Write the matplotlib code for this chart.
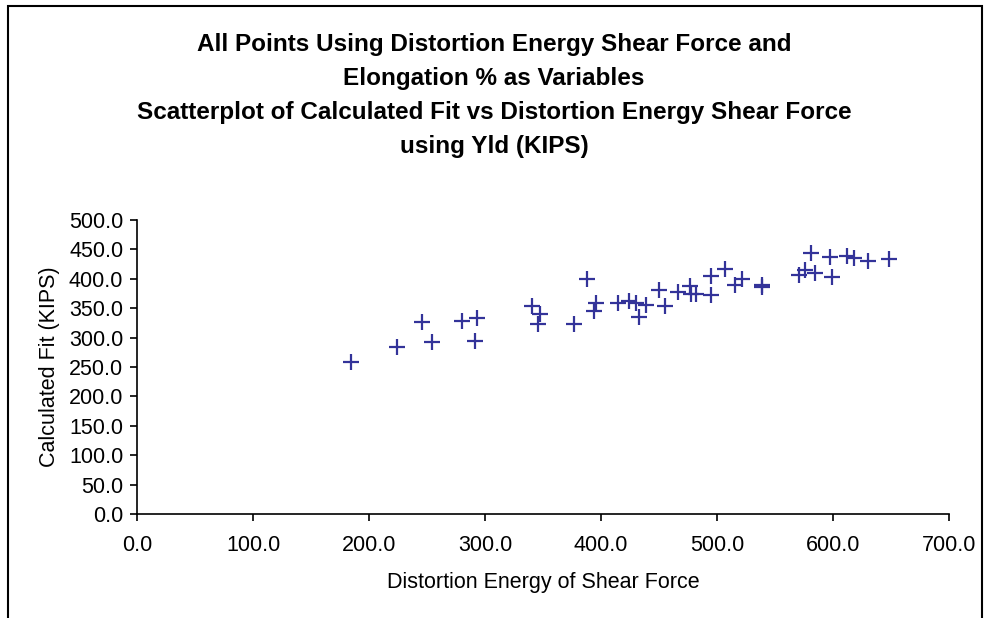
import matplotlib.pyplot as plt
from matplotlib.patches import Rectangle
from matplotlib.ticker import FormatStrFormatter

# values
shear_force = [
    184.3, 224.1, 245.9, 254.5, 280.5, 293.0, 291.4, 340.4, 347.8, 345.6,
    376.3, 387.9, 395.6, 394.0, 414.8, 423.8, 430.5, 433.1, 438.8, 454.9,
    449.7, 466.7, 476.6, 477.3, 481.8, 494.6, 494.6, 506.8, 515.7, 521.5,
    538.8, 538.8, 570.9, 576.0, 584.6, 581.4, 599.1, 597.8, 612.2, 617.7,
    629.8, 648.1,
]
calculated_fit = [
    258.5, 283.4, 326.5, 291.9, 328.2, 333.3, 294.2, 354.3, 340.7, 323.1,
    323.7, 399.1, 358.3, 345.2, 358.3, 361.7, 358.3, 334.4, 354.9, 353.7,
    380.9, 377.5, 387.7, 374.1, 374.1, 373.0, 404.8, 416.1, 388.9, 399.1,
    388.9, 385.5, 405.9, 415.0, 409.3, 443.3, 402.5, 436.5, 438.8, 435.4,
    429.7, 433.1,
]
x_ticks = [0, 100, 200, 300, 400, 500, 600, 700]
y_ticks = [0, 50, 100, 150, 200, 250, 300, 350, 400, 450, 500]

title_lines = [
    "All Points Using Distortion Energy Shear Force and",
    "Elongation % as Variables",
    "Scatterplot of Calculated Fit vs Distortion Energy Shear Force",
    "using Yld (KIPS)",
]

plt.rcParams["font.family"] = ["Liberation Sans", "DejaVu Sans"]

fig = plt.figure(figsize=(9.88, 6.18), dpi=100)
ax = fig.add_axes([0.1387, 0.1683, 0.8218, 0.4757])

ax.plot(shear_force, calculated_fit, linestyle="none", marker="+",
        markersize=11, markeredgewidth=1.6, color="#333399")

ax.set_xlim(0, 700)
ax.set_ylim(0, 500)
ax.set_xticks(x_ticks)
ax.set_yticks(y_ticks)
ax.xaxis.set_major_formatter(FormatStrFormatter("%.1f"))
ax.yaxis.set_major_formatter(FormatStrFormatter("%.1f"))
ax.tick_params(direction="out", length=5, width=1.2, labelsize=15.5,
               colors="black")
ax.tick_params(axis="x", pad=10)
ax.tick_params(axis="y", pad=5)
ax.spines["top"].set_visible(False)
ax.spines["right"].set_visible(False)
ax.spines["left"].set_linewidth(1.2)
ax.spines["bottom"].set_linewidth(1.2)

ax.set_xlabel("Distortion Energy of Shear Force", fontsize=15.5, labelpad=12)
ax.set_ylabel("Calculated Fit (KIPS)", fontsize=15.5, labelpad=6)

title_y = [44, 78, 112, 146]
for line, ypx in zip(title_lines, title_y):
    fig.text(0.5, 1 - ypx / 618, line, ha="center", va="center",
             fontsize=17.5, fontweight="bold")

# chart area border
fig.patches.append(Rectangle((8 / 988, -0.1), 974 / 988, 1.1 - 6 / 618,
                             transform=fig.transFigure, fill=False,
                             edgecolor="black", linewidth=1.5))

fig.savefig("out.png", dpi=100)
